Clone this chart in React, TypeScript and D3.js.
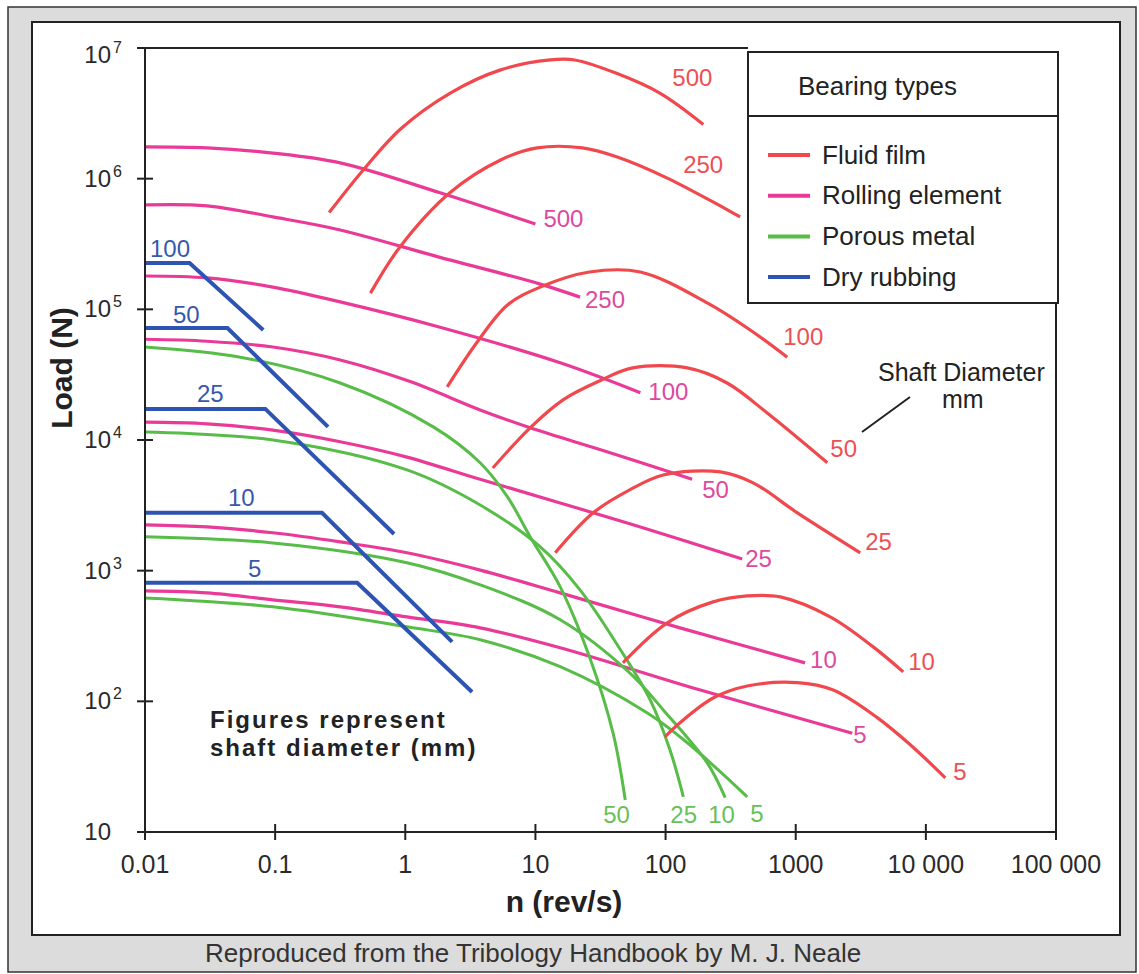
import React from 'react';
import * as d3 from 'd3';

type Pt = [number, number];

// axis ticks
const xTicks = [0.01, 0.1, 1, 10, 100, 1000, 10000, 100000];
const xTickLabels = ['0.01', '0.1', '1', '10', '100', '1000', '10 000', '100 000'];
const yTicks = [10, 100, 1000, 10000, 100000, 1000000, 10000000];
const yTickExps = ['', '2', '3', '4', '5', '6', '7'];

// shaft diameters (mm) for each family of curves
const fluidLabels = ['500', '250', '100', '50', '25', '10', '5'];
const rollingLabels = ['500', '250', '100', '50', '25', '10', '5'];
const porousLabels = ['50', '25', '10', '5'];
const dryLabels = ['100', '50', '25', '10', '5'];

// Fluid film: [n (rev/s), load (N)]
const fluid500: Pt[] = [[0.26, 5.5e5], [0.47, 1.15e6], [0.92, 2.4e6], [2.2, 4.5e6], [5.4, 6.8e6], [13, 8.1e6], [20, 8.1e6], [42, 6.4e6], [91, 4.5e6], [195, 2.6e6]];
const fluid250: Pt[] = [[0.54, 1.33e5], [0.91, 3.0e5], [2.2, 7.8e5], [5.4, 1.39e6], [10.3, 1.72e6], [23, 1.72e6], [42, 1.47e6], [103, 1.01e6], [374, 5.1e5]];
const fluid100: Pt[] = [[2.1, 2.55e4], [3.56, 5.6e4], [6.1, 1.08e5], [10.9, 1.48e5], [26, 1.93e5], [64, 1.93e5], [209, 1.12e5], [447, 6.95e4], [861, 4.3e4]];
const fluid50: Pt[] = [[4.7, 6.1e3], [9.1, 1.24e4], [16.3, 2.03e4], [31, 2.83e4], [56, 3.56e4], [147, 3.56e4], [297, 2.73e4], [604, 1.61e4], [1750, 6.7e3]];
const fluid25: Pt[] = [[14.2, 1.37e3], [27.8, 2.77e3], [53, 4.15e3], [96, 5.4e3], [263, 5.7e3], [471, 4.7e3], [1030, 2.77e3], [3130, 1.37e3]];
const fluid10: Pt[] = [[47, 197], [103, 399], [232, 577], [424, 641], [760, 630], [1840, 443], [3940, 261], [6700, 168]];
const fluid5: Pt[] = [[99, 53.5], [129, 68.5], [232, 106], [424, 131], [1030, 139], [1940, 122], [4230, 75], [7590, 46.5], [14100, 26]];

// Rolling element
const rolling500: Pt[] = [[0.01, 1.75e6], [0.03, 1.72e6], [0.096, 1.57e6], [0.316, 1.32e6], [1.85, 7.8e5], [10, 4.5e5]];
const rolling250: Pt[] = [[0.01, 6.3e5], [0.03, 6.2e5], [0.096, 5.1e5], [0.316, 4.05e5], [1.85, 2.5e5], [10.9, 1.56e5], [22, 1.24e5]];
const rolling100: Pt[] = [[0.01, 1.8e5], [0.03, 1.74e5], [0.096, 1.48e5], [0.316, 1.14e5], [1.85, 7.3e4], [15.5, 3.9e4], [64, 2.3e4]];
const rolling50: Pt[] = [[0.01, 5.9e4], [0.03, 5.7e4], [0.096, 5.15e4], [0.316, 4.1e4], [1.09, 2.8e4], [3.76, 1.7e4], [9.1, 1.24e4], [37.5, 8.0e3], [160, 5.0e3]];
const rolling25: Pt[] = [[0.01, 1.37e4], [0.03, 1.33e4], [0.096, 1.19e4], [0.316, 9.7e3], [1.03, 7.4e3], [3.76, 5.0e3], [15.5, 3.3e3], [76, 2.05e3], [388, 1.23e3]];
const rolling10: Pt[] = [[0.01, 2.24e3], [0.03, 2.16e3], [0.096, 1.95e3], [0.316, 1.66e3], [1.03, 1.37e3], [3.76, 1.01e3], [15.5, 676], [129, 365], [1180, 197]];
const rolling5: Pt[] = [[0.01, 700], [0.03, 676], [0.096, 598], [0.316, 529], [1.03, 443], [3.76, 365], [15.5, 257], [185, 122], [2720, 57]];

// Porous metal
const porous50: Pt[] = [[0.01, 5.15e4], [0.054, 4.3e4], [0.316, 2.73e4], [1.64, 1.26e4], [3.76, 6.7e3], [6.1, 3.67e3], [9.1, 1.82e3], [15.5, 752], [26, 219], [39.5, 57], [49, 17.6]];
const porous25: Pt[] = [[0.01, 1.15e4], [0.096, 1.0e4], [1.03, 5.9e3], [3.76, 3.18e3], [10.9, 1.52e3], [22, 713], [45, 248], [76, 103], [108, 42.6], [137, 18.6]];
const porous10: Pt[] = [[0.01, 1.82e3], [0.096, 1.63e3], [1.03, 1.15e3], [3.76, 779], [15.5, 421], [53, 165], [96, 86], [209, 33.8], [287, 18.3]];
const porous5: Pt[] = [[0.01, 619], [0.096, 529], [1.03, 372], [3.76, 296], [15.5, 184], [72, 81.7], [147, 48.2], [424, 18.6]];

// Dry rubbing
const dry100: Pt[] = [[0.01, 2.26e5], [0.022, 2.26e5], [0.081, 6.95e4]];
const dry50: Pt[] = [[0.01, 7.2e4], [0.043, 7.2e4], [0.255, 1.26e4]];
const dry25: Pt[] = [[0.01, 1.73e4], [0.084, 1.73e4], [0.82, 1.91e3]];
const dry10: Pt[] = [[0.01, 2.77e3], [0.229, 2.77e3], [2.29, 285]];
const dry5: Pt[] = [[0.01, 807], [0.427, 807], [3.26, 118]];

const legendNames = ['Fluid film', 'Rolling element', 'Porous metal', 'Dry rubbing'];

// label nudges in px (layout only)
const fluidLabelOffset = [[-31, -38], [-57, -44], [-4, -12], [3, -6], [5, -3], [5, -2], [8, 2]];
const rollingLabelOffset = [[8, 3], [5, 11], [8, 7], [10, 19], [3, 8], [5, 5], [1, 10]];
const porousLabelOffset = [[-22, 23], [-13, 26], [-17, 25], [3, 25]];
const dryLabelOffset = [[5, -6], [28, -5], [52, -7], [83, -7], [103, -6]];

const FONT = "'Liberation Sans', Arial, Helvetica, sans-serif";
const RED = '#f0484c';
const MAGENTA = '#ea3a98';
const GREEN = '#58bc48';
const BLUE = '#2d53b3';

export default function App() {
  const x = d3.scaleLog().domain([0.01, 100000]).range([145, 1056]);
  const y = d3.scaleLog().domain([10, 1e7]).range([832, 48]);

  const smooth = d3.line<Pt>()
    .x(d => x(d[0]))
    .y(d => y(d[1]))
    .curve(d3.curveCatmullRom.alpha(0.5));
  const straight = d3.line<Pt>()
    .x(d => x(d[0]))
    .y(d => y(d[1]));

  const fluid = [fluid500, fluid250, fluid100, fluid50, fluid25, fluid10, fluid5];
  const rolling = [rolling500, rolling250, rolling100, rolling50, rolling25, rolling10, rolling5];
  const porous = [porous50, porous25, porous10, porous5];
  const dry = [dry100, dry50, dry25, dry10, dry5];

  const legendColors = [RED, MAGENTA, GREEN, BLUE];
  const last = (p: Pt[]) => p[p.length - 1];

  return (
    <svg width={1139} height={974} style={{ position: 'absolute', left: 0, top: 0, background: '#fff' }} fontFamily={FONT}>
      {/* frame */}
      <rect x={8} y={7} width={1128} height={965} fill="#dcdcdc" stroke="#333" strokeWidth={1.5} />
      <rect x={32} y={22} width={1088} height={913} fill="#fff" stroke="#222" strokeWidth={2} />
      <text x={205} y={962} fontSize={26} fill="#333">Reproduced from the Tribology Handbook by M. J. Neale</text>

      {/* curves */}
      {rolling.map((p, i) => (
        <path key={'r' + i} d={smooth(p) || ''} fill="none" stroke={MAGENTA} strokeWidth={3.2} />
      ))}
      {porous.map((p, i) => (
        <path key={'p' + i} d={smooth(p) || ''} fill="none" stroke={GREEN} strokeWidth={3} />
      ))}
      {fluid.map((p, i) => (
        <path key={'f' + i} d={smooth(p) || ''} fill="none" stroke={RED} strokeWidth={3.2} />
      ))}
      {dry.map((p, i) => (
        <path key={'d' + i} d={straight(p) || ''} fill="none" stroke={BLUE} strokeWidth={4} strokeLinejoin="miter" />
      ))}

      {/* curve labels */}
      <g fontSize={24}>
        {rolling.map((p, i) => (
          <text key={'rl' + i} x={x(last(p)[0]) + rollingLabelOffset[i][0]} y={y(last(p)[1]) + rollingLabelOffset[i][1]} fill="#dc4aa0">{rollingLabels[i]}</text>
        ))}
        {fluid.map((p, i) => (
          <text key={'fl' + i} x={x(last(p)[0]) + fluidLabelOffset[i][0]} y={y(last(p)[1]) + fluidLabelOffset[i][1]} fill="#ec5054">{fluidLabels[i]}</text>
        ))}
        {porous.map((p, i) => (
          <text key={'pl' + i} x={x(last(p)[0]) + porousLabelOffset[i][0]} y={y(last(p)[1]) + porousLabelOffset[i][1]} fill="#68c058">{porousLabels[i]}</text>
        ))}
        {dry.map((p, i) => (
          <text key={'dl' + i} x={x(p[0][0]) + dryLabelOffset[i][0]} y={y(p[0][1]) + dryLabelOffset[i][1]} fill="#3858ae">{dryLabels[i]}</text>
        ))}
      </g>

      {/* axes and frame of plot */}
      <g stroke="#222" strokeWidth={2}>
        <line x1={x(0.01)} x2={x(0.01)} y1={y(1e7)} y2={y(10)} />
        <line x1={x(0.01)} x2={x(100000)} y1={y(10)} y2={y(10)} />
        <line x1={x(0.01)} x2={748} y1={y(1e7)} y2={y(1e7)} />
        <line x1={x(100000)} x2={x(100000)} y1={303} y2={y(10)} />
        {yTicks.map(t => (
          <line key={'yt' + t} x1={x(0.01) - 8} x2={x(0.01) + 8} y1={y(t)} y2={y(t)} />
        ))}
        {xTicks.map(t => (
          <line key={'xt' + t} x1={x(t)} x2={x(t)} y1={y(10) - 8} y2={y(10) + 8} />
        ))}
      </g>
      <g fill="#2a2a2a">
        {xTicks.map((t, i) => (
          <text key={'xl' + t} x={x(t)} y={873} fontSize={25} textAnchor="middle">{xTickLabels[i]}</text>
        ))}
        {yTicks.map((t, i) => {
          const base = y(t) + (i === yTicks.length - 1 ? 15 : 8);
          return (
            <g key={'yl' + t}>
              <text x={111} y={base} fontSize={24} textAnchor="end">10</text>
              {yTickExps[i] && <text x={113} y={base - 10} fontSize={16}>{yTickExps[i]}</text>}
            </g>
          );
        })}
      </g>

      {/* axis titles */}
      <text x={564} y={912} fontSize={30} fontWeight="bold" textAnchor="middle" fill="#222">n (rev/s)</text>
      <text transform="translate(72,368) rotate(-90)" fontSize={30} fontWeight="bold" textAnchor="middle" fill="#222">Load (N)</text>

      {/* annotations */}
      <g fontSize={24} fontWeight="bold" fill="#222" letterSpacing={2}>
        <text x={210} y={728}>Figures represent</text>
        <text x={210} y={756}>shaft diameter (mm)</text>
      </g>
      <text x={878} y={381} fontSize={25} fill="#222">Shaft Diameter</text>
      <text x={942} y={408} fontSize={25} fill="#222">mm</text>
      <line x1={862} y1={432} x2={910} y2={397} stroke="#222" strokeWidth={2} />

      {/* legend */}
      <rect x={748} y={52} width={310} height={251} fill="#fff" stroke="#222" strokeWidth={2} />
      <line x1={748} x2={1058} y1={116} y2={116} stroke="#222" strokeWidth={2} />
      <text x={798} y={95} fontSize={26} fill="#222">Bearing types</text>
      {legendNames.map((name, i) => {
        const ly = 155 + i * 40.7;
        return (
          <g key={name}>
            <line x1={768} x2={810} y1={ly} y2={ly} stroke={legendColors[i]} strokeWidth={4} />
            <text x={822} y={ly + 8.5} fontSize={26} fill="#222">{name}</text>
          </g>
        );
      })}
    </svg>
  );
}
